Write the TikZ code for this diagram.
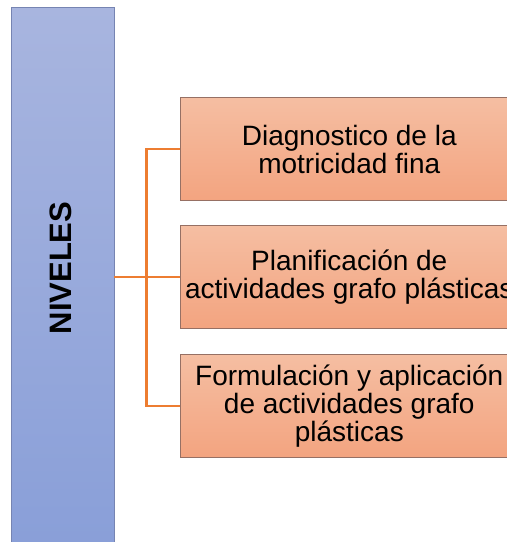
\documentclass[tikz,border=0pt]{standalone}
\usepackage{fontspec}
\setmainfont{Liberation Sans}
\definecolor{bluetop}{RGB}{168,181,223}
\definecolor{bluebot}{RGB}{136,158,216}
\definecolor{blueedge}{RGB}{118,132,178}
\definecolor{ortop}{RGB}{245,190,162}
\definecolor{orbot}{RGB}{243,164,128}
\definecolor{oredge}{RGB}{150,112,100}
\definecolor{conn}{RGB}{237,125,49}
\tikzset{
  levelbar/.style={draw=blueedge, line width=0.8pt, top color=bluetop, bottom color=bluebot,
    minimum width=103pt, minimum height=560pt, inner sep=0pt},
  itembox/.style={draw=oredge, line width=0.9pt, top color=ortop, bottom color=orbot,
    minimum width=337pt, minimum height=103pt, inner sep=0pt, align=center,
    font=\fontsize{28pt}{28pt}\selectfont},
  connline/.style={draw=conn, line width=2.4pt}
}
\begin{document}
\begin{tikzpicture}[x=1pt,y=-1pt]
\useasboundingbox (0,0) rectangle (507,542);
\clip (0,0) rectangle (507,542);
\fill[white] (0,0) rectangle (507,542);
\node[levelbar] (bar) at (62.5,287) {};
\node[rotate=90, font=\fontsize{31pt}{31pt}\selectfont\bfseries] (lbl) at (61,268) {NIVELES};
\node[itembox] (b1) at (349.3,149) {Diagnostico de la\\motricidad fina};
\node[itembox] (b2) at (349.3,277) {Planificación de\\actividades grafo plásticas};
\node[itembox] (b3) at (349.3,406) {Formulación y aplicación\\de actividades grafo\\plásticas};
\draw[connline] (b2.west -| bar.east) -- (b2.west);
\draw[connline] (b1.west) -- ++(-34,0) |- (b3.west);
\end{tikzpicture}
\end{document}
